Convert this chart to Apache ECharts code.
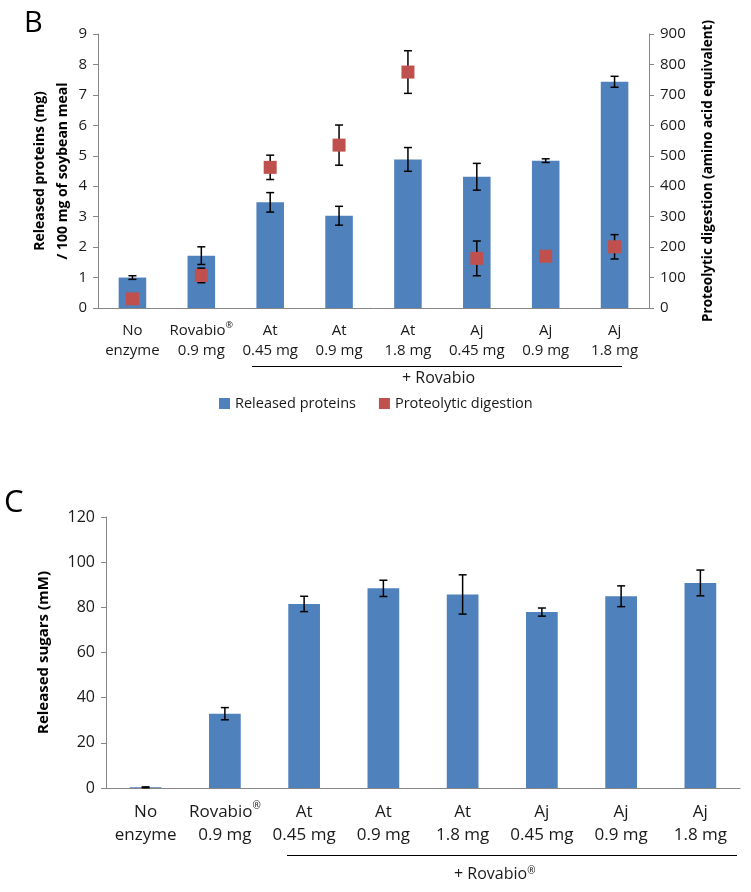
<!DOCTYPE html>
<html>
<head>
<meta charset="utf-8">
<script src="https://cdn.jsdelivr.net/npm/echarts@6/dist/echarts.min.js"></script>
<style>
  html, body { margin: 0; padding: 0; background: #fff; }
  #chart { width: 751px; height: 892px; }
</style>
</head>
<body>
<div id="chart"></div>
<script>
const categories = ['No\nenzyme', 'Rovabio®\n0.9 mg', 'At\n0.45 mg', 'At\n0.9 mg', 'At\n1.8 mg',
  'Aj\n0.45 mg', 'Aj\n0.9 mg', 'Aj\n1.8 mg']

// panel B
const proteins = [1.0, 1.72, 3.47, 3.03, 4.88, 4.31, 4.84, 7.43]
const proteinsErr = [0.06, 0.29, 0.32, 0.31, 0.39, 0.44, 0.06, 0.18]
const digestion = [30, 107, 462, 535, 775, 163, 170, 201]
const digestionErr = [10, 24, 40, 66, 70, 57, 8, 40]

// panel C
const sugars = [0.3, 32.9, 81.5, 88.4, 85.7, 77.9, 84.9, 90.8]
const sugarsErr = [0.2, 2.7, 3.4, 3.6, 8.7, 1.8, 4.6, 5.7]

const BLUE = '#4F81BD'
const RED = '#C0504D'
const AXIS = '#868686'
const FONT = 'Open Sans'

function errData(vals, errs) {
  return vals.map((v, i) => [i, v - errs[i], v + errs[i]])
}

function errRender(params, api) {
  const x = api.value(0)
  const lo = api.coord([x, api.value(1)])
  const hi = api.coord([x, api.value(2)])
  const w = 4
  const style = {stroke: '#000', lineWidth: 1.5}
  return {
    type: 'group',
    children: [
      {type: 'line', shape: {x1: hi[0], y1: hi[1], x2: lo[0], y2: lo[1]}, style},
      {type: 'line', shape: {x1: hi[0] - w, y1: hi[1], x2: hi[0] + w, y2: hi[1]}, style},
      {type: 'line', shape: {x1: lo[0] - w, y1: lo[1], x2: lo[0] + w, y2: lo[1]}, style}
    ]
  }
}

function catLabel(size, lh) {
  return {
    interval: 0,
    color: '#1a1a1a',
    fontSize: size,
    lineHeight: lh,
    margin: 13,
    formatter: v => v.replace('®', '{s|®}'),
    rich: {
      s: {fontSize: Math.round(size * 0.6), verticalAlign: 'top', lineHeight: lh, color: '#1a1a1a'}
    }
  }
}

function valAxis(opts) {
  return Object.assign({
    type: 'value',
    axisLine: {show: true, lineStyle: {color: AXIS}},
    axisTick: {show: true, length: 5, lineStyle: {color: AXIS}},
    splitLine: {show: false},
    nameLocation: 'middle',
    nameRotate: 90
  }, opts)
}

let myChart = echarts.init(document.getElementById('chart'))
let option = {
  animation: false,
  textStyle: {fontFamily: FONT},
  grid: [
    {left: 98, right: 102, top: 34, height: 274},
    {left: 106, right: 11, top: 517, height: 271}
  ],
  legend: {
    data: ['Released proteins', 'Proteolytic digestion'],
    left: 219,
    top: 396,
    padding: 0,
    icon: 'rect',
    itemWidth: 11,
    itemHeight: 11,
    itemGap: 23,
    textStyle: {fontSize: 14.5, color: '#1a1a1a'}
  },
  xAxis: [
    {
      type: 'category', gridIndex: 0, data: categories,
      axisLine: {lineStyle: {color: AXIS}},
      axisTick: {length: 5, interval: 0, lineStyle: {color: AXIS}},
      axisLabel: catLabel(15, 20)
    },
    {
      type: 'category', gridIndex: 1, data: categories,
      axisLine: {lineStyle: {color: AXIS}},
      axisTick: {length: 5, interval: 0, lineStyle: {color: AXIS}},
      axisLabel: catLabel(17, 23)
    }
  ],
  yAxis: [
    valAxis({
      gridIndex: 0, min: 0, max: 9, interval: 1,
      name: 'Released proteins (mg)\n/ 100 mg of soybean meal',
      nameGap: 23,
      nameMoveOverlap: false,
      nameTextStyle: {fontWeight: 'bold', color: '#000', fontSize: 14, lineHeight: 23},
      axisLabel: {fontSize: 15, color: '#1a1a1a', margin: 11}
    }),
    valAxis({
      gridIndex: 0, min: 0, max: 900, interval: 100, position: 'right',
      name: 'Proteolytic digestion (amino acid equivalent)',
      nameGap: 52,
      nameTextStyle: {fontWeight: 'bold', color: '#000', fontSize: 13.5},
      axisLabel: {fontSize: 15, color: '#1a1a1a', margin: 11}
    }),
    valAxis({
      gridIndex: 1, min: 0, max: 120, interval: 20,
      name: 'Released sugars (mM)',
      nameGap: 55,
      nameTextStyle: {fontWeight: 'bold', color: '#000', fontSize: 15},
      axisLabel: {fontSize: 16, color: '#1a1a1a', margin: 11}
    })
  ],
  series: [
    {
      name: 'Released proteins', type: 'bar', xAxisIndex: 0, yAxisIndex: 0,
      data: proteins, barWidth: '40%', itemStyle: {color: BLUE}
    },
    {
      type: 'custom', xAxisIndex: 0, yAxisIndex: 0, renderItem: errRender,
      data: errData(proteins, proteinsErr), encode: {x: 0, y: [1, 2]}, z: 3
    },
    {
      type: 'custom', xAxisIndex: 0, yAxisIndex: 1, renderItem: errRender,
      data: errData(digestion, digestionErr), encode: {x: 0, y: [1, 2]}, z: 3
    },
    {
      name: 'Proteolytic digestion', type: 'scatter', xAxisIndex: 0, yAxisIndex: 1,
      data: digestion, symbol: 'rect', symbolSize: 13, itemStyle: {color: RED, opacity: 1}, z: 5
    },
    {
      name: 'Released sugars', type: 'bar', xAxisIndex: 1, yAxisIndex: 2,
      data: sugars, barWidth: '40%', itemStyle: {color: BLUE}
    },
    {
      type: 'custom', xAxisIndex: 1, yAxisIndex: 2, renderItem: errRender,
      data: errData(sugars, sugarsErr), encode: {x: 0, y: [1, 2]}, z: 3
    }
  ],
  graphic: [
    {type: 'text', left: 24, top: 9, style: {text: 'B', fontSize: 29, fontFamily: FONT, fill: '#000'}},
    {type: 'text', left: 4, top: 488, style: {text: 'C', fontSize: 31, fontFamily: FONT, fill: '#000'}},
    {type: 'line', shape: {x1: 252, y1: 366.5, x2: 622, y2: 366.5}, style: {stroke: '#000', lineWidth: 1.2}},
    {type: 'text', x: 402, y: 378, style: {text: '+ Rovabio', fontSize: 16, fontFamily: FONT, fill: '#1a1a1a', verticalAlign: 'middle'}},
    {type: 'line', shape: {x1: 287, y1: 855.5, x2: 737, y2: 855.5}, style: {stroke: '#000', lineWidth: 1.2}},
    {
      type: 'text', x: 454, y: 874,
      style: {
        text: '+ Rovabio{s|®}', fontSize: 16, fontFamily: FONT, fill: '#1a1a1a', verticalAlign: 'middle',
        rich: {s: {fontSize: 10, verticalAlign: 'top', fontFamily: FONT, fill: '#1a1a1a'}}
      }
    }
  ]
}
myChart.setOption(option)
</script>
</body>
</html>
